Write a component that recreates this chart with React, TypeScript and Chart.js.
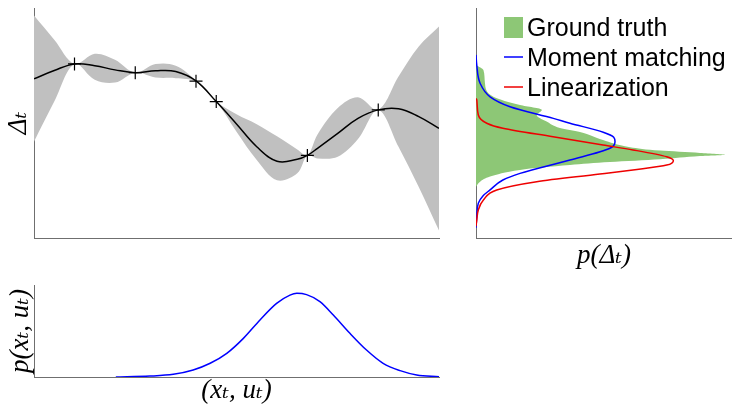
import React, { useEffect, useRef } from "react";
import { Chart, registerables } from "chart.js";

Chart.register(...registerables);

// ---------- main panel: GP mean with uncertainty band ----------
const gridX = [0, 0.5, 1, 1.5, 2, 2.5, 3, 3.5, 4, 4.5, 5, 5.5, 6, 6.5, 6.75, 7, 7.5, 8, 8.5, 9, 9.5, 10];
const meanY = [6.92, 7.28, 7.57, 7.49, 7.31, 7.19, 7.27, 7.24, 6.83, 5.93, 4.96, 3.97, 3.34, 3.42, 3.59, 3.9, 4.55, 5.2, 5.57, 5.62, 5.28, 4.77];
const upperY = [9.67, 8.62, 7.57, 8.01, 7.75, 7.19, 7.56, 7.49, 6.84, 5.93, 5.38, 4.95, 4.42, 3.85, 3.59, 4.5, 5.65, 6.12, 5.57, 7.02, 8.33, 9.2];
const lowerY = [4.19, 5.93, 7.57, 6.88, 6.76, 7.19, 6.98, 6.95, 6.8, 5.93, 4.62, 3.39, 2.51, 2.81, 3.59, 3.46, 3.53, 4.3, 5.57, 3.97, 2.22, 0.33];
const obsX = [1.0, 2.5, 4.0, 4.5, 6.75, 8.5];
const obsY = [7.57, 7.19, 6.82, 5.93, 3.59, 5.57];

// ---------- right panel: densities of Delta_t (level from top to bottom) ----------
const truthLevel = [7.52, 7.3, 6.73, 6.14, 5.78, 5.57, 5.35, 5.06, 4.78, 4.61, 4.26, 3.95, 3.8, 3.7, 3.62, 3.56, 3.42, 3.3, 3.17, 2.96, 2.67, 2.45, 2.23];
const truthDensity = [0, 0.29, 0.35, 0.68, 1.72, 2.57, 2.37, 2.76, 3.28, 4.06, 4.96, 6.02, 7.19, 8.75, 9.73, 8.75, 7.19, 5.23, 3.67, 1.72, 0.55, 0.16, 0];
const mmLevel = [7.96, 7.52, 6.73, 6.14, 5.71, 5.2, 4.99, 4.6, 4.38, 4.19, 3.9, 3.39, 2.81, 2.52, 2.09, 1.83, 1.51, 0.93, 0.45];
const mmDensity = [0, 0.03, 0.16, 0.55, 1.33, 3.02, 3.67, 4.97, 5.38, 5.43, 5.23, 3.67, 1.72, 1.05, 0.55, 0.27, 0.09, 0.03, 0];
const linLevel = [6.07, 6.0, 5.35, 4.99, 4.77, 4.4, 4.04, 3.83, 3.53, 3.36, 3.17, 2.96, 2.78, 2.45, 2.09, 1.65, 1.22, 0.78, 0.52];
const linDensity = [0, 0.03, 0.09, 0.42, 1.05, 3.01, 4.96, 6.13, 7.45, 7.71, 7.45, 6.13, 4.84, 2.37, 0.81, 0.29, 0.09, 0.03, 0];
const legendLabels = ["Ground truth", "Moment matching", "Linearization"];

// ---------- bottom panel: input distribution ----------
const inputX = [2.02, 2.86, 3.44, 3.93, 4.35, 4.76, 5.17, 5.58, 5.99, 6.32, 6.49, 6.73, 7.06, 7.39, 7.8, 8.21, 8.62, 9.04, 9.45, 10];
const inputP = [0, 0.1, 0.29, 0.76, 1.49, 2.57, 4.2, 6.2, 8.0, 8.9, 9.1, 8.95, 8.2, 6.74, 4.75, 2.93, 1.49, 0.69, 0.22, 0.03];

const AXIS_COLOR = "#6f6f6f";
const MATH_FONT = '"Liberation Serif", "DejaVu Serif", serif';
const SANS_FONT = '"Liberation Sans", Arial, sans-serif';

const pts = (xs: number[], ys: number[]) => xs.map((x, i) => ({ x, y: ys[i] }));
const ptsH = (dens: number[], lev: number[]) => dens.map((d, i) => ({ x: d, y: lev[i] }));

function axis(extra: any, title?: { text: string; pt: number; pb: number }) {
  return {
    type: "linear",
    min: 0,
    max: 10,
    ticks: { display: false },
    grid: { display: false, drawTicks: false },
    border: { display: true, color: AXIS_COLOR, width: 1 },
    title: title
      ? {
          display: true,
          text: title.text,
          color: "#000",
          font: { family: MATH_FONT, size: 27, style: "italic", lineHeight: 1 },
          padding: { top: title.pt, bottom: title.pb },
        }
      : { display: false },
    ...extra,
  };
}

const legendPlugin = {
  id: "insideLegend",
  afterDraw(chart: any) {
    const ctx = chart.ctx;
    const { left, top } = chart.chartArea;
    const x0 = left + 28;
    const x1 = left + 47;
    const tx = left + 51;
    ctx.save();
    ctx.font = `25px ${SANS_FONT}`;
    ctx.textBaseline = "alphabetic";
    chart.data.datasets.forEach((ds: any, i: number) => {
      const cy = top + 19 + i * 30;
      if (ds.fill) {
        ctx.fillStyle = ds.backgroundColor;
        ctx.fillRect(x0, cy - 10, x1 - x0, 21);
      } else {
        ctx.strokeStyle = ds.borderColor;
        ctx.lineWidth = 1.5;
        ctx.beginPath();
        ctx.moveTo(x0, cy);
        ctx.lineTo(x1, cy);
        ctx.stroke();
      }
      ctx.fillStyle = "#000";
      ctx.fillText(ds.label, tx, cy + 9);
    });
    ctx.restore();
  },
};

function buildMain(): any {
  return {
    type: "scatter",
    data: {
      datasets: [
        {
          label: "upper",
          data: pts(gridX, upperY),
          showLine: true,
          tension: 0.35,
          borderWidth: 0,
          borderColor: "rgba(0,0,0,0)",
          pointRadius: 0,
          backgroundColor: "#c0c0c0",
          fill: 1,
          order: 3,
        },
        {
          label: "lower",
          data: pts(gridX, lowerY),
          showLine: true,
          tension: 0.35,
          borderWidth: 0,
          borderColor: "rgba(0,0,0,0)",
          pointRadius: 0,
          fill: false,
          order: 4,
        },
        {
          label: "mean",
          data: pts(gridX, meanY),
          showLine: true,
          tension: 0.4,
          borderWidth: 1.5,
          borderColor: "#000",
          pointRadius: 0,
          fill: false,
          order: 2,
        },
        {
          label: "observations",
          data: pts(obsX, obsY),
          showLine: false,
          pointStyle: "cross",
          pointRadius: 6.5,
          borderColor: "#000",
          borderWidth: 1.2,
          order: 1,
        },
      ],
    },
    options: {
      responsive: false,
      animation: false,
      events: [],
      layout: { autoPadding: false, padding: { top: 8, right: 11, bottom: 2, left: 0 } },
      plugins: { legend: { display: false }, tooltip: { enabled: false } },
      scales: {
        x: axis({ position: "bottom" }),
        y: axis({ position: "left" }, { text: "Δₜ", pt: 5.5, pb: 1.5 }),
      },
    },
  };
}

function buildRight(): any {
  return {
    type: "line",
    data: {
      datasets: [
        {
          label: legendLabels[0],
          data: ptsH(truthDensity, truthLevel),
          cubicInterpolationMode: "monotone",
          borderWidth: 0,
          borderColor: "rgba(0,0,0,0)",
          backgroundColor: "#8dc776",
          pointRadius: 0,
          fill: "shape",
          order: 3,
        },
        {
          label: legendLabels[1],
          data: ptsH(mmDensity, mmLevel),
          cubicInterpolationMode: "monotone",
          borderWidth: 1.5,
          borderColor: "#0000ff",
          pointRadius: 0,
          fill: false,
          order: 2,
        },
        {
          label: legendLabels[2],
          data: ptsH(linDensity, linLevel),
          cubicInterpolationMode: "monotone",
          borderWidth: 1.5,
          borderColor: "#ee0000",
          pointRadius: 0,
          fill: false,
          order: 1,
        },
      ],
    },
    options: {
      indexAxis: "y",
      responsive: false,
      animation: false,
      events: [],
      layout: { autoPadding: false, padding: { top: 8, right: 0, bottom: 0, left: 16 } },
      plugins: { legend: { display: false }, tooltip: { enabled: false } },
      scales: {
        x: axis({ position: "bottom" }, { text: "p(Δₜ)", pt: 4.5, pb: 5.5 }),
        y: axis({ position: "left" }),
      },
    },
    plugins: [legendPlugin],
  };
}

function buildBottom(): any {
  return {
    type: "line",
    data: {
      datasets: [
        {
          label: "p(x,u)",
          data: pts(inputX, inputP),
          cubicInterpolationMode: "monotone",
          borderWidth: 1.5,
          borderColor: "#0000ff",
          pointRadius: 0,
          fill: false,
        },
      ],
    },
    options: {
      responsive: false,
      animation: false,
      events: [],
      layout: { autoPadding: false, padding: { top: 15, right: 11, bottom: 0, left: 0 } },
      plugins: { legend: { display: false }, tooltip: { enabled: false } },
      scales: {
        x: axis({ position: "bottom" }, { text: "(xₜ, uₜ)", pt: 0.5, pb: 0.5 }),
        y: axis({ position: "left" }, { text: "p(xₜ, uₜ)", pt: 7, pb: 0 }),
      },
    },
  };
}

function ChartCanvas(props: { left: number; top: number; width: number; height: number; build: () => any }) {
  const ref = useRef<HTMLCanvasElement>(null);
  useEffect(() => {
    const chart = new Chart(ref.current as HTMLCanvasElement, props.build());
    return () => chart.destroy();
  }, []);
  return (
    <div style={{ position: "absolute", left: props.left, top: props.top, width: props.width, height: props.height }}>
      <canvas ref={ref} width={props.width} height={props.height} style={{ display: "block" }} />
    </div>
  );
}

export default function App() {
  return (
    <div style={{ position: "fixed", left: 0, top: 0, width: 732, height: 405, background: "#fff", overflow: "hidden" }}>
      <ChartCanvas left={0} top={0} width={450} height={240} build={buildMain} />
      <ChartCanvas left={460} top={0} width={272} height={275} build={buildRight} />
      <ChartCanvas left={0} top={270} width={450} height={135} build={buildBottom} />
    </div>
  );
}
